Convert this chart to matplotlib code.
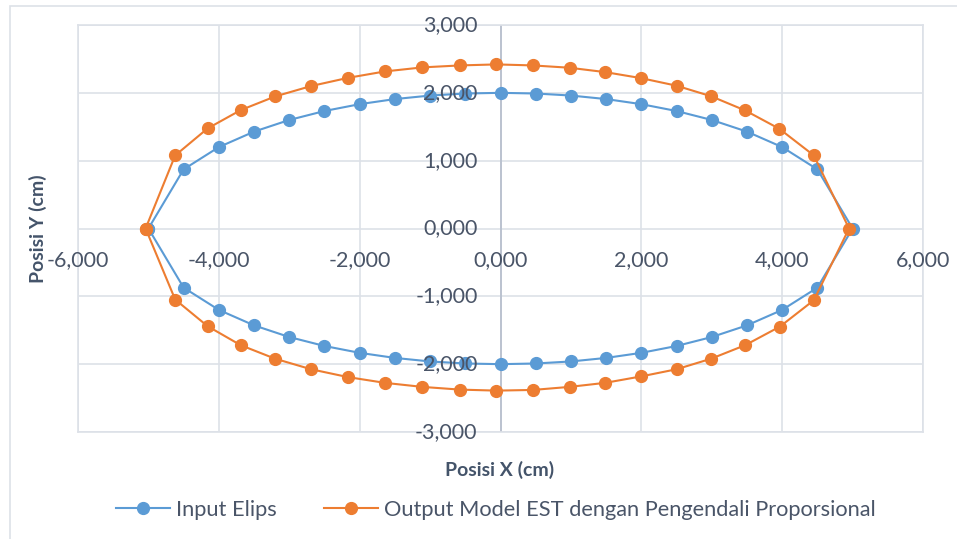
import matplotlib.pyplot as plt
from matplotlib.lines import Line2D
from matplotlib.patches import Rectangle

plt.rcParams['font.family'] = ['Lato', 'DejaVu Sans']

# Input Elips (cm): upper arc left->right, then lower arc right->left
input_x = [-5.0, -4.5, -4.0, -3.5, -3.0, -2.5, -2.0, -1.5, -1.0, -0.5, 0.0,
           0.5, 1.0, 1.5, 2.0, 2.5, 3.0, 3.5, 4.0, 4.5, 5.0,
           4.5, 4.0, 3.5, 3.0, 2.5, 2.0, 1.5, 1.0, 0.5, 0.0,
           -0.5, -1.0, -1.5, -2.0, -2.5, -3.0, -3.5, -4.0, -4.5, -5.0]
input_y = [0.0, 0.872, 1.2, 1.428, 1.6, 1.732, 1.833, 1.908, 1.960, 1.990, 2.0,
           1.990, 1.960, 1.908, 1.833, 1.732, 1.6, 1.428, 1.2, 0.872, 0.0,
           -0.872, -1.2, -1.428, -1.6, -1.732, -1.833, -1.908, -1.960, -1.990, -2.0,
           -1.990, -1.960, -1.908, -1.833, -1.732, -1.6, -1.428, -1.2, -0.872, 0.0]

# Output Model EST dengan Pengendali Proporsional (cm)
output_x = [-5.04, -4.62, -4.16, -3.69, -3.20, -2.69, -2.17, -1.645, -1.11, -0.577, -0.057,
            0.46, 0.98, 1.49, 1.995, 2.50, 2.99, 3.475, 3.96, 4.45, 4.95,
            4.45, 3.97, 3.475, 2.99, 2.50, 2.0, 1.49, 0.98, 0.46, -0.057,
            -0.577, -1.11, -1.645, -2.17, -2.69, -3.20, -3.69, -4.16, -4.62, -5.04]
output_y = [0.0, 1.077, 1.475, 1.745, 1.947, 2.10, 2.22, 2.315, 2.375, 2.404, 2.419,
            2.404, 2.37, 2.305, 2.217, 2.105, 1.95, 1.74, 1.47, 1.077, 0.0,
            -1.057, -1.445, -1.72, -1.92, -2.075, -2.18, -2.275, -2.335, -2.38, -2.39,
            -2.375, -2.335, -2.275, -2.19, -2.075, -1.92, -1.72, -1.44, -1.047, 0.0]

x_ticks = [-6, -4, -2, 0, 2, 4, 6]
y_ticks = [-3, -2, -1, 0, 1, 2, 3]

blue = '#5B9BD5'
orange = '#ED7D31'
grid_c = '#DDE1E8'
axis_c = '#B8C0CE'
tick_c = '#4A5568'
title_c = '#44546A'


def fmt(v):
    return f"{v:.3f}".replace('.', ',')


fig = plt.figure(figsize=(9.57, 5.39), dpi=100)
fig.patches.append(Rectangle((10 / 957, -0.1), 1.2, 1 - 6 / 539 + 0.1,
                             transform=fig.transFigure, fill=False,
                             edgecolor=grid_c, lw=1.2))

ax = fig.add_axes([78 / 957, 1 - 432 / 539, 845 / 957, 407 / 539])
ax.set_xlim(-6, 6)
ax.set_ylim(-3, 3)
ax.set_xticks(x_ticks)
ax.set_yticks(y_ticks)
ax.tick_params(length=0, labelbottom=False, labelleft=False)
ax.grid(True, color=grid_c, lw=1.2)
ax.set_axisbelow(True)
for s in ax.spines.values():
    s.set_color(grid_c)
    s.set_linewidth(1.2)
ax.axvline(0, color=axis_c, lw=1.3, zorder=1)

ax.plot(input_x, input_y, color=blue, lw=1.5, marker='o', ms=8.5,
        mec=blue, mfc=blue, zorder=3)
ax.plot(output_x, output_y, color=orange, lw=1.5, marker='o', ms=8.5,
        mec=orange, mfc=orange, zorder=4)

# tick labels sit on the axes crossing at the origin
for v in x_ticks:
    ax.annotate(fmt(v), (v, 0), xytext=(0, -22.5), textcoords='offset points',
                ha='center', va='center', fontsize=15.5, color=tick_c, zorder=6)
for v in y_ticks:
    ax.annotate(fmt(v), (0, v), xytext=(-16.5, 0), textcoords='offset points',
                ha='right', va='center', fontsize=15.5, color=tick_c, zorder=6)

fig.text(500 / 957, 1 - 470 / 539, 'Posisi X (cm)', ha='center', va='center',
         fontsize=14, fontweight='bold', color=title_c)
fig.text(38 / 957, 1 - 229 / 539, 'Posisi Y (cm)', ha='center', va='center',
         rotation=90, fontsize=14, fontweight='bold', color=title_c)

handles = [Line2D([], [], color=blue, lw=1.5, marker='o', ms=8.5),
           Line2D([], [], color=orange, lw=1.5, marker='o', ms=8.5)]
fig.legend(handles, ['Input Elips', 'Output Model EST dengan Pengendali Proporsional'],
           loc='center', bbox_to_anchor=(496 / 957, 1 - 510 / 539), ncol=2,
           frameon=False, fontsize=15.7, labelcolor=tick_c, handlelength=2.45,
           handletextpad=0.27, columnspacing=2.2)

fig.savefig('out.png', dpi=100)
